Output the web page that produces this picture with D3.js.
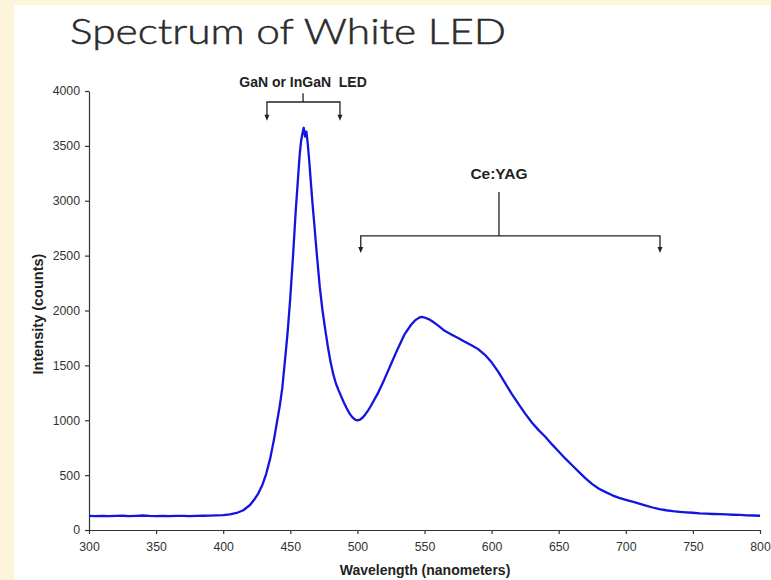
<!DOCTYPE html>
<html>
<head>
<meta charset="utf-8">
<script src="https://cdn.jsdelivr.net/npm/d3@7"></script>
<style>
  html, body { margin: 0; padding: 0; background: #fcf5da; }
  svg { display: block; }
</style>
</head>
<body>
<svg id="chart" width="771" height="580"></svg>
<script>
// Emission spectrum of a white LED (blue InGaN die + Ce:YAG phosphor)
const wavelengths = [
  300, 305, 310, 315, 320, 325, 330, 335, 340, 345, 350, 355, 360, 365, 370, 375, 380, 385, 390, 395,
  400, 405, 410, 415, 420, 423, 426, 429, 432, 435, 438, 440, 442, 444, 446, 448, 450, 452, 454, 456,
  457, 458, 459, 460, 461, 462, 463, 464, 465, 466, 467, 468, 469, 470, 472, 474, 476, 478, 480, 482,
  484, 486, 488, 490, 492, 494, 496, 498, 500, 502, 504, 506, 508, 510, 515, 520, 525, 530, 535, 540,
  543, 546, 548, 550, 553, 556, 560, 565, 570, 575, 580, 585, 590, 595, 600, 605, 610, 615, 620, 625, 630,
  635, 640, 645, 650, 655, 660, 665, 670, 675, 680, 685, 690, 695, 700, 705, 710, 715, 720, 725, 730,
  735, 740, 745, 750, 755, 760, 765, 770, 775, 780, 785, 790, 795, 800
];
const intensity = [
  128, 127, 129, 126, 128, 130, 127, 129, 132, 128, 127, 128, 126, 128, 129, 127, 128, 130, 131, 133,
  136, 142, 155, 180, 228, 275, 330, 405, 510, 650, 835, 980, 1120, 1290, 1540, 1800, 2120, 2490, 2900, 3250,
  3420, 3540, 3610, 3665, 3585, 3630, 3520, 3380, 3220, 3060, 2910, 2770, 2620, 2480, 2210, 2000, 1830, 1670, 1530, 1420,
  1335, 1272, 1215, 1160, 1110, 1065, 1030, 1008, 998, 1005, 1025, 1055, 1090, 1130, 1240, 1370, 1510, 1650, 1780, 1870,
  1910, 1935, 1942, 1936, 1922, 1900, 1865, 1815, 1782, 1750, 1715, 1684, 1648, 1596, 1528, 1440, 1340, 1240, 1150, 1060, 980,
  910, 850, 780, 715, 650, 590, 530, 470, 418, 376, 345, 316, 293, 275, 258, 240, 222, 205, 190, 180,
  172, 166, 161, 157, 152, 149, 146, 144, 142, 139, 137, 134, 132, 130
];
const xTicks = [300, 350, 400, 450, 500, 550, 600, 650, 700, 750, 800];
const yTicks = [0, 500, 1000, 1500, 2000, 2500, 3000, 3500, 4000];

// Bracket annotations: label, bracket span (nm) and stem position (nm)
const bracketLabels = ["GaN or InGaN  LED", "Ce:YAG"];
const bracketFrom = [432.6, 502.5];
const bracketTo = [487.0, 725.5];
const bracketStem = [459.5, 605.5];

const svg = d3.select("#chart");

// White panel
svg.append("rect")
  .attr("x", 14).attr("y", 5)
  .attr("width", 771 - 14).attr("height", 580 - 5)
  .attr("fill", "#ffffff");

const x = d3.scaleLinear().domain([300, 800]).range([89, 760]);
const y = d3.scaleLinear().domain([0, 4000]).range([530, 91]);

// Title
svg.append("text")
  .attr("x", 70).attr("y", 44)
  .attr("font-family", "Lato, 'Open Sans', sans-serif")
  .attr("font-weight", 300)
  .attr("font-size", 36)
  .attr("fill", "#2b2b2b")
  .attr("stroke", "#2b2b2b")
  .attr("stroke-width", 0.5)
  .attr("textLength", 436)
  .attr("lengthAdjust", "spacingAndGlyphs")
  .text("Spectrum of White LED");

// Axes
const axisFont = "'Liberation Sans', Arial, sans-serif";
const gx = svg.append("g")
  .attr("transform", `translate(0,${y(0)})`)
  .call(d3.axisBottom(x).tickValues(xTicks).tickFormat(d3.format("d"))
    .tickSize(4).tickSizeOuter(0).tickPadding(8));
const gy = svg.append("g")
  .attr("transform", `translate(${x(300)},0)`)
  .call(d3.axisLeft(y).tickValues(yTicks).tickFormat(d3.format("d"))
    .tickSize(4).tickSizeOuter(0).tickPadding(5));

[gx, gy].forEach(g => {
  g.select(".domain").attr("stroke", "#333").attr("stroke-width", 1.2);
  g.selectAll(".tick line").attr("stroke", "#333").attr("stroke-width", 1.2);
  g.selectAll(".tick text")
    .attr("font-family", axisFont)
    .attr("font-size", 12.3)
    .attr("fill", "#333");
});

// Axis titles
svg.append("text")
  .attr("x", 425).attr("y", 575)
  .attr("text-anchor", "middle")
  .attr("font-family", axisFont)
  .attr("font-weight", "bold")
  .attr("font-size", 14)
  .attr("fill", "#222")
  .text("Wavelength (nanometers)");
svg.append("text")
  .attr("transform", "translate(43,314) rotate(-90)")
  .attr("text-anchor", "middle")
  .attr("font-family", axisFont)
  .attr("font-weight", "bold")
  .attr("font-size", 14.5)
  .attr("fill", "#222")
  .text("Intensity (counts)");

// Spectrum line
const pts = wavelengths.map((w, i) => [w, intensity[i]]);
svg.append("path")
  .datum(pts)
  .attr("fill", "none")
  .attr("stroke", "#1414e0")
  .attr("stroke-width", 2.3)
  .attr("stroke-linejoin", "round")
  .attr("d", d3.line().x(d => x(d[0])).y(d => y(d[1])));

// Bracket annotations (anchors come from the scales)
const brackets = [
  { label: bracketLabels[0], from: bracketFrom[0], to: bracketTo[0], stem: bracketStem[0],
    bar: 3900, stemTop: 3980, arrowTip: 3730, labelY: 87, size: 14 },
  { label: bracketLabels[1], from: bracketFrom[1], to: bracketTo[1], stem: bracketStem[1],
    bar: 2680, stemTop: 3080, arrowTip: 2525, labelY: 179, size: 15.5 }
];
const ink = "#222";
brackets.forEach(b => {
  const g = svg.append("g").attr("stroke", ink).attr("stroke-width", 1.3).attr("fill", "none");
  g.append("path").attr("d",
    `M${x(b.stem)},${y(b.stemTop)}V${y(b.bar)}` +
    `M${x(b.from)},${y(b.arrowTip) - 5}V${y(b.bar)}H${x(b.to)}V${y(b.arrowTip) - 5}`);
  [b.from, b.to].forEach(w => {
    const tx = x(w), ty = y(b.arrowTip);
    svg.append("path")
      .attr("d", `M${tx - 2.5},${ty - 6}L${tx + 2.5},${ty - 6}L${tx},${ty}Z`)
      .attr("fill", ink);
  });
  svg.append("text")
    .attr("x", x(b.stem)).attr("y", b.labelY)
    .attr("text-anchor", "middle")
    .attr("font-family", axisFont)
    .attr("font-weight", "bold")
    .attr("font-size", b.size)
    .attr("fill", ink)
    .style("white-space", "pre")
    .text(b.label);
});
</script>
</body>
</html>
